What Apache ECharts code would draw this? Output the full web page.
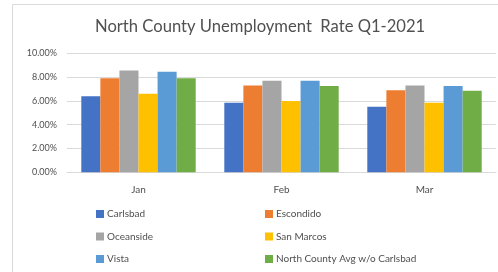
<!DOCTYPE html>
<html><head><meta charset="utf-8">
<script src="https://cdn.jsdelivr.net/npm/echarts@6/dist/echarts.min.js"></script>
<style>html,body{margin:0;padding:0;background:#fff}#c{width:498px;height:272px}</style>
</head><body><div id="c"></div>
<script>
const categories = ['Jan', 'Feb', 'Mar'];
const carlsbad = [6.4, 5.85, 5.5];
const escondido = [7.9, 7.3, 6.9];
const oceanside = [8.55, 7.7, 7.3];
const sanMarcos = [6.6, 6.0, 5.85];
const vista = [8.45, 7.7, 7.25];
const ncAvg = [7.9, 7.25, 6.85];
const seriesNames = ['Carlsbad', 'Escondido', 'Oceanside', 'San Marcos', 'Vista', 'North County Avg w/o Carlsbad'];
const seriesData = [carlsbad, escondido, oceanside, sanMarcos, vista, ncAvg];
const colors = ['#4472C4', '#ED7D31', '#A5A5A5', '#FFC000', '#5B9BD5', '#70AD47'];

const FONT = 'Lato';
const chart = echarts.init(document.getElementById('c'), null, {renderer: 'canvas'});
const legendCommon = {
  orient: 'vertical', top: 208, itemWidth: 8, itemHeight: 8, itemGap: 10.5,
  icon: 'rect', padding: 0,
  textStyle: {fontFamily: FONT, fontSize: 10, color: '#4f4f4f', lineHeight: 12, padding: [0, 0, 0, -2]}
};
chart.setOption({
  animation: false,
  color: colors,
  graphic: [{type: 'rect', shape: {x: 12.5, y: 4.5, width: 520, height: 300},
    style: {fill: 'none', stroke: '#D9D9D9', lineWidth: 1}, silent: true, z: -1}],
  title: {text: 'North County Unemployment  Rate Q1-2021', left: 95, top: 18, padding: 0,
    textStyle: {fontFamily: FONT, fontSize: 16.6, fontWeight: 'normal', color: '#505050'}},
  legend: [
    Object.assign({left: 96, data: [seriesNames[0], seriesNames[2], seriesNames[4]]}, legendCommon),
    Object.assign({left: 265, data: [seriesNames[1], seriesNames[3], seriesNames[5]]}, legendCommon)
  ],
  grid: {left: 67, right: 2, top: 53.3, bottom: 99.7, containLabel: false},
  xAxis: {type: 'category', data: categories,
    axisLine: {lineStyle: {color: '#D9D9D9'}}, axisTick: {show: false},
    axisLabel: {fontFamily: FONT, fontSize: 10, color: '#4f4f4f', margin: 12}},
  yAxis: {type: 'value', min: 0, max: 10, interval: 2,
    axisLine: {show: false}, axisTick: {show: false},
    splitLine: {lineStyle: {color: '#D9D9D9'}},
    axisLabel: {fontFamily: FONT, fontSize: 9, color: '#4f4f4f', margin: 10,
      formatter: v => v.toFixed(2) + '%'}},
  series: seriesNames.map((n, i) => ({name: n, type: 'bar', data: seriesData[i],
    barGap: '0%', barCategoryGap: '20%'}))
});
</script></body></html>
